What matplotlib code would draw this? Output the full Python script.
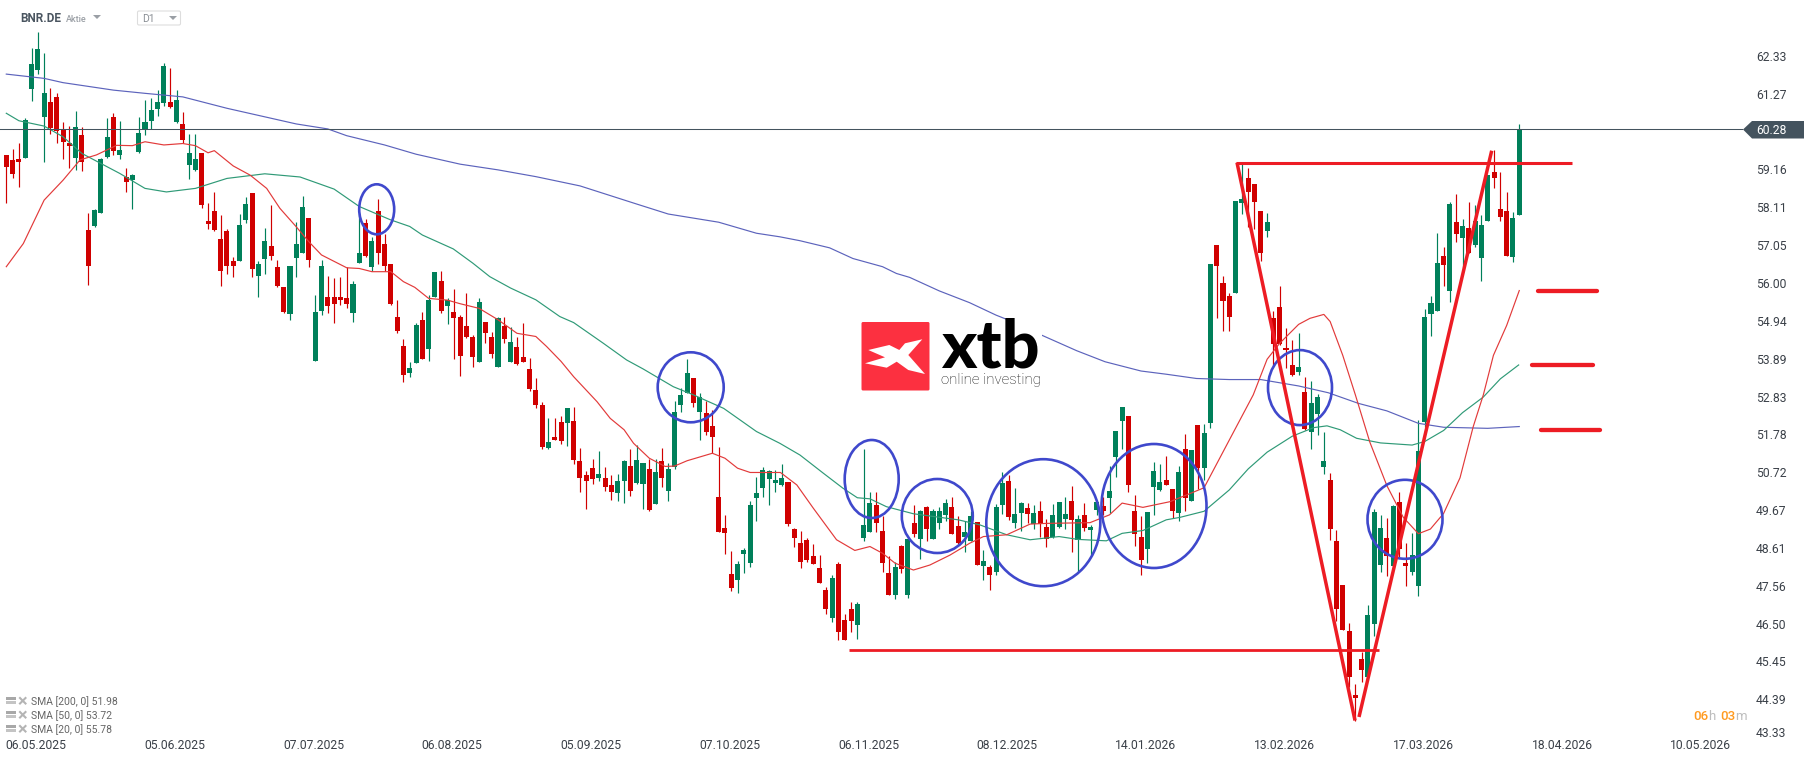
import matplotlib
matplotlib.use('Agg')
import matplotlib.pyplot as plt
from matplotlib.patches import Ellipse, Polygon, Rectangle, FancyBboxPatch

plt.rcParams['font.family'] = ['Roboto', 'DejaVu Sans']

# candles, one letter per day
directions = ('RRRGGGGRRR' 'RGRRGGGRGR' 'GGGGGGRGRG' 'GRRRRRRGGR' 'GGRRRGGGRG' 'GRRRRGGRGR'
              'RRRRGGRGGR' 'GRRRRGRRGR' 'GRRRRRGRRG' 'RRRRGRRGGR' 'GGRGRGGGGR' 'GRRRRRGGGG'
              'GGGGRRRRRR' 'RGRRRGGGRR' 'RGRGRGRGGG' 'RRGGRGRGGR' 'GGRGRRGGGR' 'GRGGRGGGRR'
              'RGGGRRGRGR' 'GGRRRGGRRR' 'GRRRRGRGGG' 'RRRRRRGGGR' 'GRRGGGGGRG' 'RGRGGGRRRG' 'G')

highs = [59.54,59.71,59.87,60.57,62.53,62.99,62.39,61.42,61.27,60.46,
         60.35,60.77,60.32,57.91,58.02,59.45,60.58,60.72,60.49,59.17,
         59.01,60.60,61.08,61.14,61.36,62.12,61.98,61.36,60.74,60.13,
         60.13,59.59,58.19,58.50,57.85,57.46,56.67,57.88,58.36,58.47,
         56.56,57.49,58.13,56.59,55.83,56.42,57.66,58.39,57.77,55.61,
         56.59,56.14,56.08,56.11,56.39,56.00,57.90,57.73,57.23,58.31,
         57.32,56.48,55.47,54.37,53.73,54.82,55.13,55.61,56.26,56.28,
         55.53,55.78,55.05,55.67,54.49,55.53,54.85,54.57,54.99,54.99,
         54.71,54.43,54.82,53.84,53.28,52.61,52.16,52.16,52.21,52.44,
         52.47,51.31,50.67,51.01,51.23,50.78,50.56,50.58,50.98,51.29,
         51.40,50.89,51.01,51.01,51.31,50.89,52.63,52.99,53.81,53.28,
         52.86,52.63,52.38,51.34,49.43,48.42,48.14,48.51,49.83,50.50,
         50.78,50.70,50.70,50.86,50.36,49.07,48.98,48.78,48.61,48.31,
         47.41,47.74,48.11,46.65,46.99,46.99,51.28,50.07,50.07,49.40,
         48.28,48.11,48.59,48.76,49.71,49.57,49.68,49.60,49.65,49.88,
         49.93,49.40,49.26,49.54,49.23,48.45,48.03,49.74,50.64,50.55,
         50.19,49.79,49.77,49.71,49.82,49.32,49.74,49.79,49.93,50.24,
         49.43,49.77,49.15,49.82,49.93,50.81,51.79,52.46,52.21,49.99,
         49.40,49.51,50.92,50.86,51.09,50.16,50.81,51.70,51.25,51.96,
         51.98,56.47,57.02,56.15,55.67,58.24,59.30,59.16,58.72,57.96,
         57.91,55.16,55.87,54.67,54.33,54.53,53.30,53.19,52.82,51.76,
         50.61,49.01,47.46,46.38,44.68,45.59,46.89,49.60,49.42,49.35,
         49.72,50.06,48.65,48.91,52.08,55.21,55.58,57.34,56.94,58.21,
         58.45,57.73,58.21,58.13,57.86,58.97,59.67,59.06,58.51,57.93,
         60.41]

body_tops = [59.54,59.40,59.43,60.52,62.09,62.51,61.28,61.03,61.17,60.26,
             59.87,60.32,60.10,57.43,57.99,59.43,60.04,60.60,59.68,58.92,
             58.98,60.16,60.46,60.80,61.03,62.04,61.03,61.08,60.41,59.59,
             59.43,59.59,57.68,57.97,57.18,57.40,56.56,57.57,58.16,58.47,
             56.48,57.12,56.98,56.39,55.83,56.42,57.04,58.08,57.77,55.13,
             56.42,55.55,55.55,55.55,55.52,55.92,56.79,57.62,57.13,57.97,
             57.04,56.48,54.99,54.18,53.56,54.77,54.91,55.47,56.26,56.00,
             55.47,55.13,54.99,54.74,54.43,55.41,54.85,54.43,54.96,54.74,
             54.29,54.15,53.87,53.53,52.94,52.52,51.48,51.62,52.04,52.44,
             52.07,50.95,50.56,50.75,50.58,50.47,50.27,50.39,50.95,50.81,
             50.98,50.89,50.72,50.64,50.95,50.72,52.32,52.80,53.42,53.28,
             52.75,52.30,51.93,49.94,49.07,47.78,48.06,48.45,49.71,50.05,
             50.70,50.67,50.41,50.47,50.36,49.04,48.64,48.73,48.28,47.94,
             47.32,47.66,48.05,46.48,46.79,46.93,49.15,49.77,49.71,48.98,
             47.80,47.97,48.56,48.76,49.20,49.54,49.65,49.54,49.54,49.77,
             49.65,49.12,48.95,49.40,49.23,48.14,47.97,49.65,50.33,50.38,
             49.46,49.77,49.63,49.49,49.54,49.09,49.43,49.79,49.46,49.82,
             49.32,49.43,49.09,49.79,49.68,50.10,51.79,52.46,52.21,49.54,
             48.81,49.51,50.67,50.36,50.41,50.16,50.64,51.28,51.25,51.96,
             51.73,56.47,57.02,55.94,55.57,58.24,58.30,58.89,58.72,57.96,
             57.66,54.97,55.28,54.11,53.63,53.57,52.88,52.57,52.73,50.93,
             50.40,48.69,47.46,46.16,44.36,45.38,46.63,49.50,49.07,48.78,
             49.69,49.79,48.07,48.29,51.22,54.98,55.39,56.50,56.70,58.15,
             57.66,57.55,57.49,57.67,57.57,58.97,59.06,58.02,57.96,57.77,
             60.26]

body_bottoms = [59.21,59.00,59.34,59.45,61.39,61.92,60.60,60.29,60.20,59.90,
                59.79,59.45,59.34,56.42,57.54,57.91,59.48,59.65,59.54,58.78,
                58.84,59.62,60.24,60.49,60.83,61.00,60.89,60.46,59.96,59.26,
                59.12,58.13,57.60,57.43,56.28,56.42,56.42,56.56,57.71,56.34,
                56.14,56.62,56.70,55.86,55.13,55.07,56.65,56.79,56.59,53.75,
                55.16,55.30,55.35,55.47,55.35,55.10,56.51,56.71,56.40,56.79,
                56.42,55.36,54.60,53.36,53.42,53.70,53.81,54.09,55.55,55.16,
                55.30,54.96,53.90,54.43,53.87,53.73,54.54,53.95,53.59,54.37,
                53.73,53.67,53.73,52.97,52.52,51.34,51.31,51.54,51.51,52.02,
                50.98,50.47,50.39,50.44,50.47,50.22,50.08,50.05,50.39,50.11,
                50.33,50.30,49.57,49.74,50.47,50.11,50.78,52.52,52.86,52.58,
                52.32,51.76,51.62,48.95,48.93,47.38,47.61,48.34,48.08,49.91,
                50.19,50.44,50.33,50.27,49.18,48.79,48.11,48.17,48.05,47.52,
                46.79,46.54,46.14,45.92,46.45,46.34,48.78,48.95,49.20,48.08,
                47.18,47.18,47.91,47.18,48.90,48.76,49.04,48.76,49.20,49.43,
                48.90,48.64,48.81,48.70,48.03,48.00,47.74,47.83,49.71,49.37,
                49.20,49.49,49.46,49.18,49.18,48.76,48.81,49.09,49.32,49.29,
                48.73,49.06,49.01,49.57,49.54,49.91,51.06,52.07,50.27,48.90,
                48.17,48.47,50.22,50.13,50.27,49.54,49.49,49.91,49.82,50.75,
                50.75,52.00,56.42,55.43,54.99,55.66,58.20,58.50,58.21,56.79,
                57.41,54.23,54.23,54.05,53.36,53.44,51.85,51.76,52.25,50.78,
                49.03,46.78,46.19,44.88,44.28,45.08,44.87,46.36,48.02,48.28,
                48.00,48.46,48.00,47.82,47.44,52.04,55.07,55.16,56.46,55.71,
                57.32,57.21,56.78,57.00,56.65,57.68,58.89,57.80,56.70,56.67,
                57.85]

lows = [58.20,58.90,58.64,59.45,61.05,61.81,59.34,60.13,59.87,59.43,
        59.17,59.12,59.09,55.89,57.52,57.91,59.45,59.54,59.43,58.50,
        58.02,59.59,60.10,60.27,60.63,60.91,60.86,60.44,59.87,58.86,
        59.09,58.05,57.46,57.40,55.86,56.20,56.11,56.56,57.63,56.11,
        55.55,56.20,56.59,55.83,55.10,54.90,56.11,56.79,56.39,53.75,
        55.05,55.10,54.82,55.33,55.24,54.85,56.51,56.68,56.28,56.48,
        56.28,55.33,54.54,53.17,53.31,53.70,53.81,53.76,55.55,55.10,
        54.80,53.81,53.34,54.40,53.59,53.73,54.26,53.84,53.59,54.26,
        53.73,53.64,53.73,52.91,52.44,51.29,51.29,51.54,51.43,51.37,
        50.86,50.08,49.60,50.30,50.39,50.11,49.85,49.83,49.77,49.97,
        50.30,49.60,49.54,49.74,50.22,49.83,50.72,52.32,52.86,52.47,
        51.54,51.68,51.17,48.95,48.34,47.30,47.24,47.80,47.97,49.26,
        49.94,49.71,50.08,50.25,49.12,48.53,47.94,48.11,48.05,47.52,
        46.65,46.42,45.92,45.92,46.14,45.95,48.70,48.95,48.95,47.83,
        47.18,47.07,47.80,47.10,48.81,48.19,48.70,48.76,49.04,49.26,
        48.90,48.61,48.39,48.70,48.03,47.60,47.32,47.74,49.46,49.29,
        49.06,48.98,49.20,49.04,48.81,48.53,48.78,49.06,49.04,48.39,
        47.83,48.98,48.31,49.43,49.43,49.49,50.50,51.28,50.07,48.56,
        47.74,48.08,49.43,50.10,50.27,49.34,49.26,49.54,49.82,50.16,
        50.41,51.87,54.97,54.58,54.60,55.66,57.89,57.51,57.47,56.55,
        57.24,53.60,54.19,53.55,53.34,53.36,51.82,51.28,51.66,50.58,
        48.72,46.46,46.19,44.59,43.64,44.74,44.87,46.02,47.83,47.71,
        48.00,48.25,47.42,47.74,47.16,51.91,54.44,55.16,55.87,55.40,
        57.10,56.35,56.78,56.96,55.99,57.68,58.62,57.68,56.70,56.53,
        57.85]

# moving averages: bar number, price
sma200_x = [0,6,9,17,22,28,35,41,46,51,54,60,65,72,78,84,91,100,105,113,119,
            122.7,125.9,130.6,134.3,139,141.2,143.3,148,152.8,157,159.7,164.2,169.8,174.3,
            180,184,188.8,194,199,205,209.7,214.5,219,224,228,235,240]
sma200_y = [61.81,61.69,61.57,61.36,61.27,61.17,60.85,60.61,60.41,60.27,60.08,59.82,59.56,59.28,59.12,58.93,58.67,58.16,57.88,57.65,57.34,
            57.24,57.13,56.93,56.63,56.40,56.21,56.10,55.72,55.39,55.04,54.85,54.48,54.04,53.73,
            53.47,53.38,53.26,53.23,53.23,53.05,52.86,52.56,52.35,52.00,51.89,51.86,51.91]

sma50_x = [0,2,6,9,12,15,18,22,25.4,30,35,41,46.6,52,56,60.9,64,66,70.9,74,76.7,80,84,87.8,90,94.7,98.4,101,105.8,109,113.8,119,
           122.7,125.9,129.6,132.7,135,137,139.6,143.9,151,154.4,158.7,162.4,167,170,174.5,177,180.3,184,
           186.2,190,194,197,200,204,207.4,209.5,211.6,214.2,218,223,225,228,231,234.3,237,239.9]
sma50_y = [60.71,60.50,60.35,60.05,59.58,59.30,59.02,58.60,58.50,58.60,58.88,59.01,58.92,58.58,58.09,57.72,57.53,57.29,56.90,56.50,56.12,55.80,55.47,55.00,54.83,54.25,53.78,53.53,53.03,52.80,52.42,51.77,
           51.44,51.11,50.60,50.18,49.91,49.88,49.66,49.46,49.29,49.15,48.87,48.73,48.82,48.74,48.70,48.91,48.99,49.29,
           49.36,49.53,50.13,50.72,51.19,51.64,51.88,51.93,51.82,51.58,51.45,51.39,51.49,51.80,52.30,52.74,53.25,53.64]

sma20_x = [0,2.7,6,9,11.7,14.3,17.5,20,22,25,28,30,32,33,36,38.7,41.3,43.4,46,48,50,54,56,58,61,63,64.8,67,70,72,75,78,81,84,85.7,88,90,93.7,95.8,98,99.5,102,104.5,106,108,112,114,116,118,
           122.8,125.4,128,131.7,134.6,137,139,141,143.9,146.5,149.7,152.8,155,158.7,162.4,165,171.9,175,177,180.3,184.6,
           190,194,197.8,200,202,205,206.8,209,210,212,214,216.3,219,221.6,224,225.9,228,230.6,232.7,234.3,235.9,238,240]
sma20_y = [56.40,57.05,58.27,58.83,59.40,59.54,59.81,59.80,59.91,59.82,59.86,59.80,59.60,59.66,59.23,58.97,58.60,58.04,57.52,57.10,56.73,56.37,56.35,56.26,56.26,55.98,55.82,55.51,55.46,55.36,55.23,54.91,54.53,54.44,54.16,53.74,53.31,52.61,52.14,51.82,51.44,51.02,50.79,50.80,50.95,51.16,51.02,50.74,50.62,
           50.62,50.27,49.62,48.73,48.43,48.54,48.35,48.07,47.88,48.02,48.30,48.63,48.82,48.87,49.17,49.19,49.21,49.43,49.76,49.64,49.80,
           50.19,51.53,52.80,53.80,54.25,54.78,54.95,55.06,54.86,53.91,52.80,51.47,50.25,49.36,48.90,49.03,49.47,50.47,51.91,52.80,53.91,54.75,55.73]

ytick_labels = ['62.33','61.27','59.16','58.11','57.05','56.00','54.94','53.89','52.83','51.78',
                '50.72','49.67','48.61','47.56','46.50','45.45','44.39','43.33']
xtick_bars = [4.71,26.76,48.8,70.7,92.75,114.8,136.8,158.8,180.7,202.8,224.8,246.8,268.8]
xtick_dates = ['06.05.2025','05.06.2025','07.07.2025','06.08.2025','05.09.2025','07.10.2025','06.11.2025',
               '08.12.2025','14.01.2026','13.02.2026','17.03.2026','18.04.2026','10.05.2026']
last_price = 60.28

sma_labels = ['SMA [200, 0] 51.98', 'SMA [50, 0] 53.72', 'SMA [20, 0] 55.78']


# my prices above were read at 35.6 px per unit, the axis really has 35.89
def rescale(values):
    return [62.33 - (62.33 - v) * 35.6 / 35.89 for v in values]


highs = rescale(highs)
lows = rescale(lows)
body_tops = rescale(body_tops)
body_bottoms = rescale(body_bottoms)
sma200_y = rescale(sma200_y)
sma50_y = rescale(sma50_y)
sma20_y = rescale(sma20_y)

green = '#00805A'
red = '#D00000'

W, H = 1816, 761
fig = plt.figure(figsize=(W / 100, H / 100), dpi=100)
ax = fig.add_axes([0, 1 - 735 / H, 1743 / W, 735 / H])
ax.set_xlim(-0.999, 275.49)
ax.set_ylim(43.40, 63.879)

# candles
bars = list(range(len(highs)))
colors = [green if d == 'G' else red for d in directions]
ax.vlines(bars, lows, highs, colors=colors, linewidth=0.85, zorder=2)
ax.bar(bars, [t - b for t, b in zip(body_tops, body_bottoms)], bottom=body_bottoms,
       width=0.8, color=colors, linewidth=0, zorder=3)

ax.plot(sma200_x, sma200_y, color='#5C63BC', linewidth=0.85, zorder=4)
ax.plot(sma50_x, sma50_y, color='#2F9A77', linewidth=0.85, zorder=4)
ax.plot(sma20_x, sma20_y, color='#E23A3A', linewidth=0.85, zorder=4)
ax.axhline(last_price, color='#44535E', linewidth=0.75, zorder=5)

for side in ['top', 'bottom', 'left', 'right']:
    ax.spines[side].set_visible(False)
ax.yaxis.tick_right()
# the platform pushes the lowest label up so it stays on screen
ytick_pos = [float(t) for t in ytick_labels[:-1]] + [43.47]
ax.set_yticks(ytick_pos)
ax.set_yticklabels(ytick_labels)
ax.set_xticks(xtick_bars)
ax.set_xticklabels(xtick_dates)
ax.tick_params(axis='y', length=0, pad=9.4, labelsize=8.7, labelcolor='#3A4048')
ax.tick_params(axis='x', length=0, pad=3, labelsize=8.7, labelcolor='#3A4048')

# overlay in pixels for the hand drawn stuff and the platform furniture
ov = fig.add_axes([0, 0, 1, 1])
ov.set_xlim(0, W)
ov.set_ylim(H, 0)
ov.axis('off')
ov.patch.set_alpha(0)

# price tag
ov.add_patch(Polygon([(1743, 129.5), (1752, 121), (1804, 121), (1804, 138.5), (1752, 138.5)],
                     closed=True, color='#44535E', linewidth=0))
ov.text(1756, 130, '%.2f' % last_price, color='white', fontsize=8.7, va='center')

# blue circles
circle_blue = '#3F48CC'
circles = [(376.7, 209.3, 35, 50), (690.7, 387.3, 66, 70), (871.7, 479, 54, 78), (937.3, 516, 71, 74),
           (1043.3, 522.7, 114, 127), (1154, 506, 105, 124), (1300, 387.6, 64, 75), (1405, 519.3, 75, 79)]
for cx, cy, w, h in circles:
    ov.add_patch(Ellipse((cx, cy), w, h, fill=False, edgecolor=circle_blue, linewidth=1.9))

# red drawing
draw_red = '#ED1C24'
ov.plot([1236, 1572], [162.6, 162.6], color=draw_red, linewidth=2.2, solid_capstyle='butt')
ov.plot([849, 1379], [649.5, 649.5], color=draw_red, linewidth=2.0, solid_capstyle='butt')
ov.plot([1237, 1355], [162.6, 720.5], color=draw_red, linewidth=2.5, solid_capstyle='butt')
ov.plot([1359, 1491.7], [717, 150.7], color=draw_red, linewidth=2.5, solid_capstyle='butt')
ov.plot([1538, 1597], [291, 291], color=draw_red, linewidth=3.1, solid_capstyle='round')
ov.plot([1532, 1593], [365, 365], color=draw_red, linewidth=3.1, solid_capstyle='round')
ov.plot([1541, 1600], [430, 430], color=draw_red, linewidth=3.1, solid_capstyle='round')

# logo
ov.add_patch(Rectangle((1013, 318), 29, 22, color='white', linewidth=0))
ov.add_patch(FancyBboxPatch((861.5, 322), 68, 68.5, boxstyle='round,pad=0,rounding_size=1.5',
                            facecolor='#FC3040', edgecolor='none'))
ov.add_patch(Polygon([(922.3, 339.3), (908.3, 355), (925, 374), (908.3, 370), (896.7, 361.7), (886.7, 367.7),
                      (865, 363.3), (885, 357.3), (868.3, 350), (889.3, 345), (899.3, 350), (905, 343.3)],
                     closed=True, facecolor='white', edgecolor='none'))
ov.text(941, 367.7, 'xtb', fontsize=48, family='Lato', fontweight='black', color='black', va='baseline', ha='left')
ov.text(941, 384, 'online investing', fontsize=10.8, fontweight='light', color='#111111', va='baseline', ha='left')

# top left header
ov.text(20, 18.5, 'BNR.DE', fontsize=8.5, fontweight='bold', color='#4A5560', va='center')
ov.text(66, 19, 'Aktie', fontsize=6.5, fontweight='medium', color='#9A9FA5', va='center')
ov.add_patch(Polygon([(93, 15), (101, 15), (97, 19)], closed=True, color='#9A9FA5', linewidth=0))
ov.add_patch(FancyBboxPatch((137.5, 11), 43, 14, boxstyle='round,pad=0,rounding_size=1.5',
                            facecolor='white', edgecolor='#DDDDDD', linewidth=0.8))
ov.text(142.5, 19, 'D1', fontsize=7.5, color='#8A8F95', va='center')
ov.add_patch(Polygon([(169, 16), (177, 16), (173, 20)], closed=True, color='#9A9FA5', linewidth=0))

# indicator legend
for y, label in zip([701.5, 715.5, 729.5], sma_labels):
    ov.add_patch(Rectangle((6, y - 4.5), 10, 3, color='#A8A8A8', linewidth=0))
    ov.add_patch(Rectangle((6, y - 0.5), 10, 3, color='#C4C4C4', linewidth=0))
    ov.plot([20, 25.5], [y - 3.5, y + 2], color='#B4B4B4', linewidth=1.5)
    ov.plot([20, 25.5], [y + 2, y - 3.5], color='#B4B4B4', linewidth=1.5)
    ov.text(31, y, label, fontsize=7.5, color='#666666', va='center')

# candle countdown
orange = '#FF9A1F'
ov.text(1693, 716, '06', fontsize=9.5, color=orange, va='center', fontweight='medium')
ov.text(1708.5, 716, 'h', fontsize=9.5, color='#BDBDBD', va='center')
ov.text(1720, 716, '03', fontsize=9.5, color=orange, va='center', fontweight='medium')
ov.text(1735.5, 716, 'm', fontsize=9.5, color='#BDBDBD', va='center')

fig.savefig('out.png', dpi=100, facecolor='white')
